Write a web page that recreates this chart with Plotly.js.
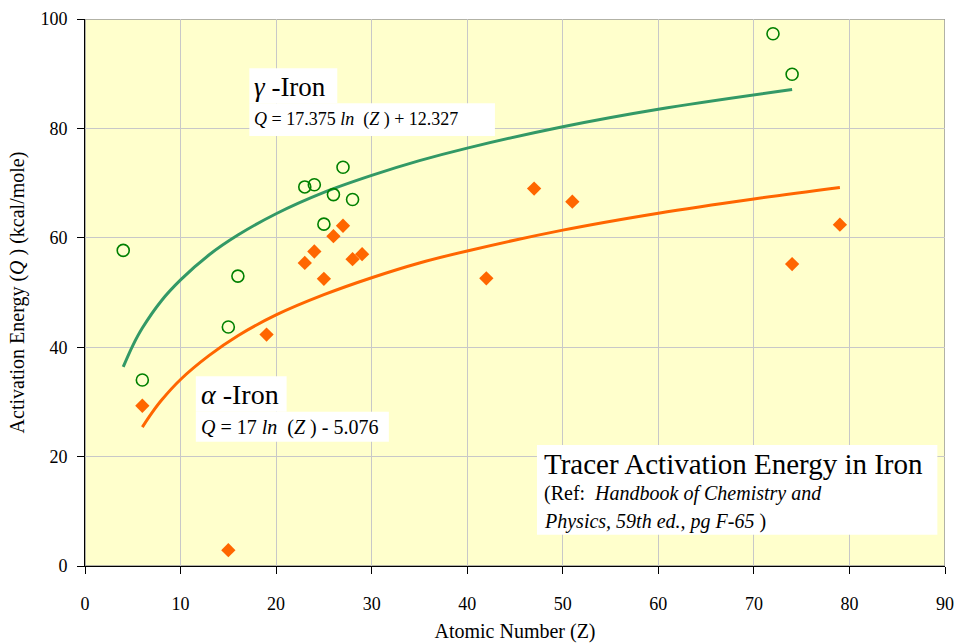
<!DOCTYPE html>
<html>
<head>
<meta charset="utf-8">
<script src="https://cdn.plot.ly/plotly-3.0.1.min.js"></script>
<style>html,body{margin:0;padding:0;background:#fff;}#chart{width:961px;height:643px;}</style>
</head>
<body>
<div id="chart"></div>
<script>
// gamma-iron data (open circles)
const gammaZ = [4, 6, 15, 16, 23, 24, 25, 26, 27, 28, 72, 74];
const gammaQ = [57.7, 34.0, 43.7, 53.0, 69.3, 69.7, 62.5, 67.9, 72.9, 67.0, 97.3, 89.9];
// alpha-iron data (filled diamonds)
const alphaZ = [6, 15, 19, 23, 24, 25, 26, 27, 28, 29, 42, 47, 51, 74, 79];
const alphaQ = [29.3, 2.9, 42.3, 55.4, 57.5, 52.5, 60.3, 62.2, 56.1, 57.0, 52.6, 69.0, 66.6, 55.2, 62.4];
// trendline points
const gammaFitZ = [4, 5, 6, 8, 10, 13, 16, 20, 25, 30, 35, 40, 50, 60, 74];
const gammaFitQ = [36.4, 40.3, 43.5, 48.5, 52.3, 56.9, 60.5, 64.4, 68.3, 71.4, 74.1, 76.4, 80.3, 83.5, 87.1];
const alphaFitZ = [6, 7, 8, 10, 13, 16, 20, 25, 30, 35, 40, 50, 60, 70, 79];
const alphaFitQ = [25.4, 28.0, 30.3, 34.1, 38.5, 42.1, 45.9, 49.6, 52.7, 55.4, 57.6, 61.4, 64.5, 67.1, 69.2];
// tick labels
const xTicks = [0, 10, 20, 30, 40, 50, 60, 70, 80, 90];
const yTicks = [0, 20, 40, 60, 80, 100];

const FAM = 'Liberation Serif';

const traces = [
  {x: gammaFitZ, y: gammaFitQ, mode: 'lines', line: {color: '#339966', width: 3, shape: 'spline'}, hoverinfo: 'skip'},
  {x: alphaFitZ, y: alphaFitQ, mode: 'lines', line: {color: '#FF6600', width: 3, shape: 'spline'}, hoverinfo: 'skip'},
  {x: gammaZ, y: gammaQ, mode: 'markers', marker: {symbol: 'circle-open', size: 12, color: '#008000', line: {width: 1.6, color: '#008000'}}},
  {x: alphaZ, y: alphaQ, mode: 'markers', marker: {symbol: 'diamond', size: 11, color: '#FF6600'}}
];

function box(x0, x1, y0, y1) {
  return {type: 'rect', xref: 'x', yref: 'y', x0: x0, x1: x1, y0: y0, y1: y1,
          fillcolor: '#FFFFFF', line: {width: 0}, layer: 'above'};
}
function ann(x, y, text, size) {
  return {xref: 'x', yref: 'y', x: x, y: y, text: text, showarrow: false,
          xanchor: 'left', yanchor: 'middle', align: 'left',
          font: {family: FAM, size: size, color: '#000000'}};
}

const layout = {
  width: 961, height: 643,
  margin: {l: 85, r: 16, t: 19, b: 77},
  paper_bgcolor: '#FFFFFF',
  plot_bgcolor: '#FFFFCC',
  showlegend: false,
  xaxis: {
    range: [0, 90], tickvals: xTicks, ticktext: xTicks.map(String),
    showgrid: true, gridcolor: '#C8C8C8', gridwidth: 1,
    showline: true, linecolor: '#000', linewidth: 1,
    ticks: 'outside', ticklen: 7, tickcolor: '#000',
    tickfont: {family: FAM, size: 18, color: '#000000'}, ticklabelstandoff: 14,
    zeroline: false,
    title: {text: 'Atomic Number (Z)', font: {family: FAM, size: 20, color: '#000000'}, standoff: 16}
  },
  yaxis: {
    range: [0, 100], tickvals: yTicks, ticktext: yTicks.map(String),
    showgrid: true, gridcolor: '#C8C8C8', gridwidth: 1,
    showline: true, linecolor: '#000', linewidth: 1,
    ticks: 'outside', ticklen: 7, tickcolor: '#000',
    tickfont: {family: FAM, size: 18, color: '#000000'}, ticklabelstandoff: 6,
    zeroline: false,
    title: {text: 'Activation Energy (<i>Q</i> ) (kcal/mole)', font: {family: FAM, size: 20, color: '#000000'}, standoff: 10}
  },
  shapes: [
    {type: 'rect', xref: 'x', yref: 'y', x0: 0, x1: 90, y0: 0, y1: 100, line: {color: '#999999', width: 1.5}, layer: 'below'},
    box(17.2, 26.4, 84.6, 91.0),
    box(17.2, 42.9, 78.6, 84.6),
    box(11.6, 21.1, 28.2, 34.7),
    box(11.6, 31.8, 22.7, 28.2),
    box(47.3, 89.2, 5.7, 22.1)
  ],
  annotations: [
    ann(17.5, 87.6, '<i>γ</i> -Iron', 27),
    ann(17.5, 81.7, '<i>Q</i> = 17.375 <i>ln</i>  (<i>Z</i> ) + 12.327', 18),
    ann(11.9, 31.3, '<i>α</i> -Iron', 28),
    ann(11.9, 25.4, '<i>Q</i> = 17 <i>ln</i>  (<i>Z</i> ) - 5.076', 20),
    ann(47.8, 18.6, 'Tracer Activation Energy in Iron', 29),
    ann(47.8, 13.2, '(Ref:  <i>Handbook of Chemistry and</i>', 20),
    ann(47.8, 8.2, '<i>Physics, 59th ed., pg F-65</i> )', 20)
  ]
};

Plotly.newPlot('chart', traces, layout, {displayModeBar: false, staticPlot: true});
</script>
</body>
</html>
